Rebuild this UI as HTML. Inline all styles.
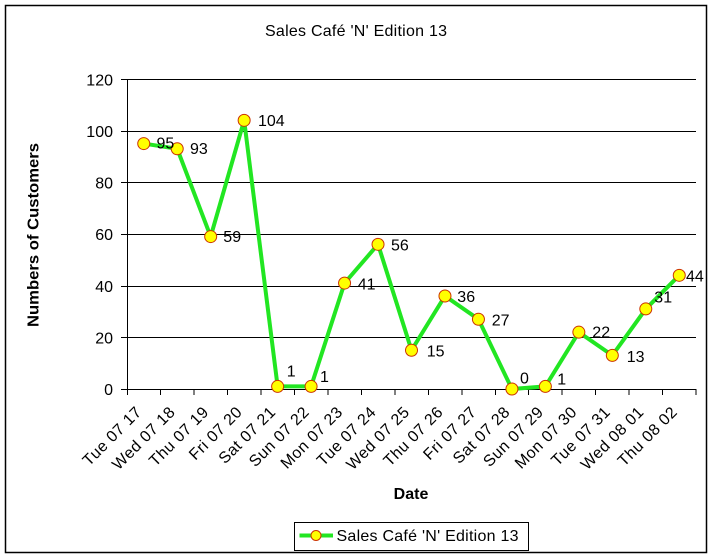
<!DOCTYPE html>
<html>
<head>
<meta charset="utf-8">
<style>
  html, body { margin: 0; padding: 0; background: #fff; }
  svg { display: block; }
  text { font-family: "Liberation Sans", Arial, sans-serif; fill: #000; }
</style>
</head>
<body>
<svg width="713" height="560" viewBox="0 0 713 560" xmlns="http://www.w3.org/2000/svg">
  <rect x="0" y="0" width="713" height="560" fill="#fff"/>
  <!-- outer border -->
  <rect x="5.5" y="5.5" width="701" height="547" fill="none" stroke="#000" stroke-width="1.5"/>

  <!-- title -->
  <text x="356" y="36" font-size="16" text-anchor="middle" textLength="182" lengthAdjust="spacing">Sales Café 'N' Edition 13</text>

  <!-- gridlines + y ticks -->
  <g stroke="#000" stroke-width="1">
    <line x1="121" y1="79.5" x2="696" y2="79.5"/>
    <line x1="121" y1="131.5" x2="696" y2="131.5"/>
    <line x1="121" y1="182.5" x2="696" y2="182.5"/>
    <line x1="121" y1="234.5" x2="696" y2="234.5"/>
    <line x1="121" y1="286.5" x2="696" y2="286.5"/>
    <line x1="121" y1="337.5" x2="696" y2="337.5"/>
    <line x1="121" y1="389.5" x2="696" y2="389.5"/>
    <line x1="127.5" y1="79" x2="127.5" y2="390"/>
  </g>

  <!-- x ticks -->
  <g stroke="#000" stroke-width="1">
    <line x1="127.5" y1="389" x2="127.5" y2="395"/>
    <line x1="160.5" y1="389" x2="160.5" y2="395"/>
    <line x1="194" y1="389" x2="194" y2="395"/>
    <line x1="227.5" y1="389" x2="227.5" y2="395"/>
    <line x1="261" y1="389" x2="261" y2="395"/>
    <line x1="294.5" y1="389" x2="294.5" y2="395"/>
    <line x1="328" y1="389" x2="328" y2="395"/>
    <line x1="361.5" y1="389" x2="361.5" y2="395"/>
    <line x1="395" y1="389" x2="395" y2="395"/>
    <line x1="428.5" y1="389" x2="428.5" y2="395"/>
    <line x1="462" y1="389" x2="462" y2="395"/>
    <line x1="495.5" y1="389" x2="495.5" y2="395"/>
    <line x1="528.5" y1="389" x2="528.5" y2="395"/>
    <line x1="562" y1="389" x2="562" y2="395"/>
    <line x1="595.5" y1="389" x2="595.5" y2="395"/>
    <line x1="629" y1="389" x2="629" y2="395"/>
    <line x1="662.5" y1="389" x2="662.5" y2="395"/>
    <line x1="696" y1="389" x2="696" y2="395"/>
  </g>

  <!-- y tick labels -->
  <g font-size="16" text-anchor="end">
    <text x="113" y="85.5">120</text>
    <text x="113" y="137">100</text>
    <text x="113" y="188.5">80</text>
    <text x="113" y="240">60</text>
    <text x="113" y="292">40</text>
    <text x="113" y="343.5">20</text>
    <text x="113" y="395">0</text>
  </g>

  <!-- y axis title -->
  <text transform="translate(38.5,235) rotate(-90)" font-size="16" font-weight="bold" text-anchor="middle" textLength="184" lengthAdjust="spacingAndGlyphs">Numbers of Customers</text>

  <!-- x labels -->
  <g font-size="16" text-anchor="end" letter-spacing="0.5">
    <text transform="translate(142.7,413) rotate(-45)">Tue 07 17</text>
    <text transform="translate(176.2,413) rotate(-45)">Wed 07 18</text>
    <text transform="translate(209.7,413) rotate(-45)">Thu 07 19</text>
    <text transform="translate(243.2,413) rotate(-45)">Fri 07 20</text>
    <text transform="translate(276.6,413) rotate(-45)">Sat 07 21</text>
    <text transform="translate(310.1,413) rotate(-45)">Sun 07 22</text>
    <text transform="translate(343.6,413) rotate(-45)">Mon 07 23</text>
    <text transform="translate(377.0,413) rotate(-45)">Tue 07 24</text>
    <text transform="translate(410.5,413) rotate(-45)">Wed 07 25</text>
    <text transform="translate(444.0,413) rotate(-45)">Thu 07 26</text>
    <text transform="translate(477.4,413) rotate(-45)">Fri 07 27</text>
    <text transform="translate(510.9,413) rotate(-45)">Sat 07 28</text>
    <text transform="translate(544.4,413) rotate(-45)">Sun 07 29</text>
    <text transform="translate(577.9,413) rotate(-45)">Mon 07 30</text>
    <text transform="translate(611.3,413) rotate(-45)">Tue 07 31</text>
    <text transform="translate(644.8,413) rotate(-45)">Wed 08 01</text>
    <text transform="translate(678.3,413) rotate(-45)">Thu 08 02</text>
  </g>

  <!-- x axis title -->
  <text x="411" y="499" font-size="16" font-weight="bold" text-anchor="middle">Date</text>

  <!-- series line -->
  <polyline fill="none" stroke="#22e622" stroke-width="4" stroke-linejoin="miter"
    points="143.74,143.58 177.21,148.75 210.68,236.58 244.15,120.33 277.62,386.42 311.09,386.42 344.56,283.08 378.03,244.33 411.50,350.25 444.97,296.0 478.44,319.25 511.91,389 545.38,386.42 578.85,332.17 612.32,355.42 645.79,308.92 679.26,275.33"/>

  <!-- markers -->
  <g fill="#ffff00" stroke="#cc3300" stroke-width="1">
    <circle cx="143.74" cy="143.58" r="6"/>
    <circle cx="177.21" cy="148.75" r="6"/>
    <circle cx="210.68" cy="236.58" r="6"/>
    <circle cx="244.15" cy="120.33" r="6"/>
    <circle cx="277.62" cy="386.42" r="6"/>
    <circle cx="311.09" cy="386.42" r="6"/>
    <circle cx="344.56" cy="283.08" r="6"/>
    <circle cx="378.03" cy="244.33" r="6"/>
    <circle cx="411.50" cy="350.25" r="6"/>
    <circle cx="444.97" cy="296.0" r="6"/>
    <circle cx="478.44" cy="319.25" r="6"/>
    <circle cx="511.91" cy="389" r="6"/>
    <circle cx="545.38" cy="386.42" r="6"/>
    <circle cx="578.85" cy="332.17" r="6"/>
    <circle cx="612.32" cy="355.42" r="6"/>
    <circle cx="645.79" cy="308.92" r="6"/>
    <circle cx="679.26" cy="275.33" r="6"/>
  </g>

  <!-- data labels -->
  <g font-size="16">
    <text x="156.5" y="148.5">95</text>
    <text x="190" y="154">93</text>
    <text x="223.3" y="242">59</text>
    <text x="258" y="126">104</text>
    <text x="286.7" y="376.7">1</text>
    <text x="320" y="382">1</text>
    <text x="357.7" y="289.3">41</text>
    <text x="391" y="250.3">56</text>
    <text x="426.7" y="356.7">15</text>
    <text x="457.3" y="302">36</text>
    <text x="491.7" y="325.3">27</text>
    <text x="520" y="383.7">0</text>
    <text x="557.3" y="384.3">1</text>
    <text x="592.3" y="337.7">22</text>
    <text x="626.7" y="362">13</text>
    <text x="654.3" y="302.7">31</text>
    <text x="686" y="281.7">44</text>
  </g>

  <!-- legend -->
  <rect x="294.5" y="522.5" width="234" height="28" fill="#fff" stroke="#000" stroke-width="1"/>
  <line x1="299.5" y1="535.5" x2="333" y2="535.5" stroke="#22e622" stroke-width="4"/>
  <circle cx="316" cy="535.5" r="5" fill="#ffff00" stroke="#cc3300" stroke-width="1"/>
  <text x="336.5" y="541" font-size="16" textLength="182" lengthAdjust="spacing">Sales Café 'N' Edition 13</text>
</svg>
</body>
</html>
